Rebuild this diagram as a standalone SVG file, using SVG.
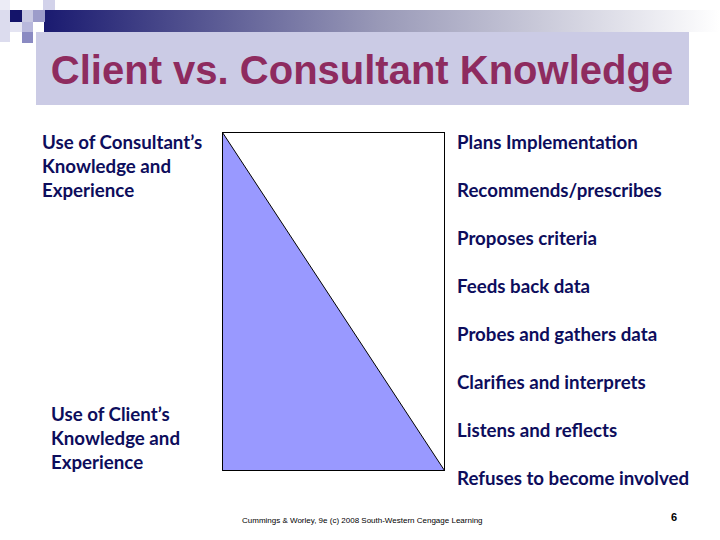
<svg xmlns="http://www.w3.org/2000/svg" width="720" height="540" viewBox="0 0 720 540">
<defs>
<linearGradient id="bar" x1="0" y1="0" x2="1" y2="0">
<stop offset="0" stop-color="#1a1a70"/>
<stop offset="0.5" stop-color="#9a9ab8"/>
<stop offset="1" stop-color="#ffffff"/>
</linearGradient>
<style>
.lbl{font-family:Lato,"Liberation Sans",sans-serif;font-weight:bold;font-size:18.7px;fill:#0d0d5c}
.title{font-family:"Liberation Sans",Arial,sans-serif;font-weight:bold;font-size:40px;fill:#8e2b5f}
.foot{font-family:"Liberation Sans",Arial,sans-serif;font-size:8px;fill:#000}
</style>
</defs>
<rect width="720" height="540" fill="#fff"/>
<g id="decor">
<rect x="44" y="10" width="676" height="22" fill="url(#bar)"/>
<rect x="0" y="0" width="10" height="10" fill="#ececf6"/>
<rect x="0" y="10" width="10" height="32" fill="#dcdcee"/>
<rect x="10" y="22" width="12" height="10" fill="#e4e4f2"/>
<rect x="10" y="10" width="12" height="12" fill="#14146a"/>
<rect x="22" y="10" width="11" height="12" fill="#c8c8e2"/>
<rect x="33" y="10" width="12" height="12" fill="#9c9cca"/>
<rect x="43" y="0" width="12" height="10" fill="#d2d2ea"/>
<rect x="22" y="22" width="11" height="10" fill="#b8b8dc"/>
<rect x="22" y="32" width="11" height="11" fill="#8a8ac2"/>
</g>
<g id="header">
<rect x="36" y="32" width="653" height="73" fill="#cbcbe5"/>
<text class="title" x="362" y="84" text-anchor="middle">Client vs. Consultant Knowledge</text>
</g>
<g id="chart">
<rect x="222.5" y="132.5" width="222" height="338" fill="#fff" stroke="#000" stroke-width="1"/>
<polygon points="222.5,132.5 222.5,470.5 444.5,470.5" fill="#9999ff" stroke="#000" stroke-width="1"/>
</g>
<g id="consultant-label">
<text class="lbl" x="42" y="149">Use of Consultant’s</text>
<text class="lbl" x="42" y="173">Knowledge and</text>
<text class="lbl" x="42" y="197">Experience</text>
</g>
<g id="client-label">
<text class="lbl" x="51" y="421">Use of Client’s</text>
<text class="lbl" x="51" y="445">Knowledge and</text>
<text class="lbl" x="51" y="469">Experience</text>
</g>
<g id="roles">
<text class="lbl" x="457" y="149">Plans Implementation</text>
<text class="lbl" x="457" y="197">Recommends/prescribes</text>
<text class="lbl" x="457" y="245">Proposes criteria</text>
<text class="lbl" x="457" y="293">Feeds back data</text>
<text class="lbl" x="457" y="341">Probes and gathers data</text>
<text class="lbl" x="457" y="389">Clarifies and interprets</text>
<text class="lbl" x="457" y="437">Listens and reflects</text>
<text class="lbl" x="457" y="485">Refuses to become involved</text>
</g>
<g id="footer">
<text class="foot" x="242" y="523">Cummings &amp; Worley, 9e (c) 2008 South-Western Cengage Learning</text>
<text x="674" y="521" text-anchor="middle" font-family="'Liberation Sans',Arial,sans-serif" font-weight="bold" font-size="11" fill="#000">6</text>
</g>
</svg>
